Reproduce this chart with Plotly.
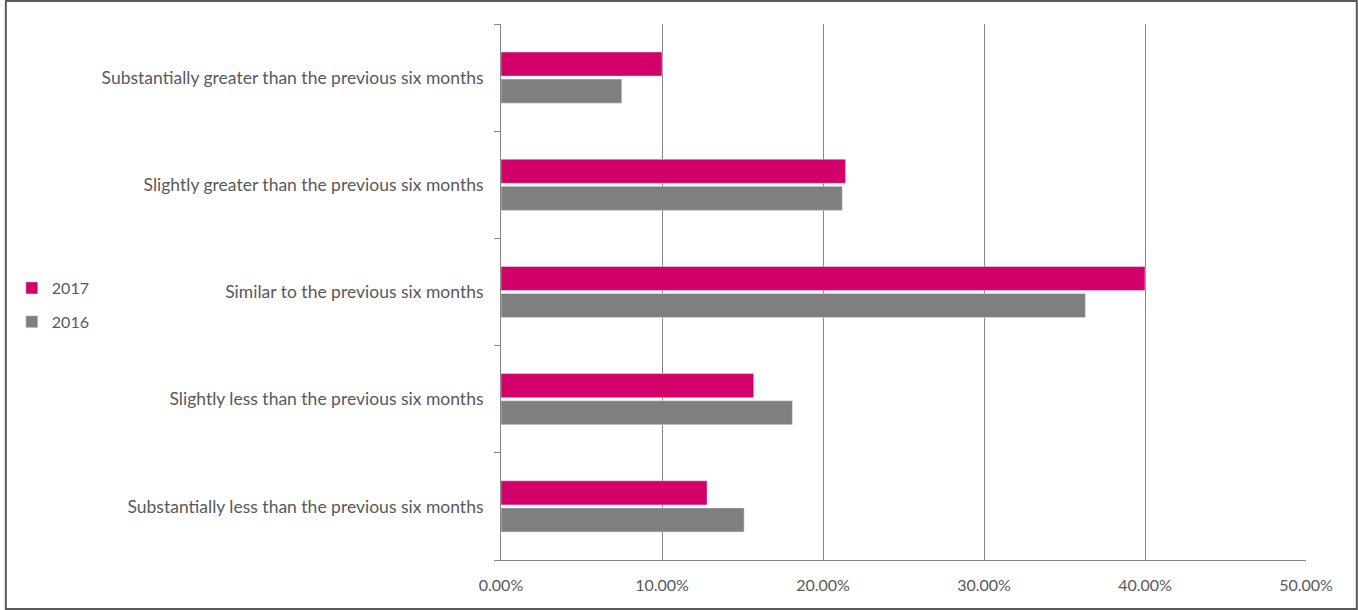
import plotly.graph_objects as go

categories = [
    "Substantially less than the previous six months",
    "Slightly less than the previous six months",
    "Similar to the previous six months",
    "Slightly greater than the previous six months",
    "Substantially greater than the previous six months",
]
values_2016 = [0.151, 0.181, 0.363, 0.212, 0.075]
values_2017 = [0.128, 0.157, 0.400, 0.214, 0.100]
x_ticks = [0.0, 0.1, 0.2, 0.3, 0.4, 0.5]

W, H = 1358, 610
L, R, T, B = 498, 52, 24, 50
pw, ph = W - L - R, H - T - B

fig = go.Figure()
fig.add_trace(go.Bar(y=categories, x=values_2016, orientation="h", name="2016",
                     marker_color="#7F7F7F", legendgroup="a", legendrank=2))
fig.add_trace(go.Bar(y=categories, x=values_2017, orientation="h", name="2017",
                     marker_color="#D20069", legendgroup="b", legendrank=1))

fam = "Lato, Carlito, Calibri, sans-serif"
col = "#595959"

fig.update_layout(
    width=W, height=H,
    margin=dict(l=L, r=R, t=T, b=B),
    paper_bgcolor="white", plot_bgcolor="white",
    barmode="group", bargap=0.495, bargroupgap=0.11,
    font=dict(family=fam, size=15, color=col),
    showlegend=True,
    legend=dict(x=-L / pw + 7 / pw, xanchor="left", y=0.5 - 13 / ph, yanchor="middle",
                traceorder="grouped", tracegroupgap=10,
                font=dict(family=fam, size=16, color=col), bgcolor="rgba(0,0,0,0)"),
    xaxis=dict(range=[0, 0.5], tickvals=x_ticks, tickformat=".2%",
               tickfont=dict(family=fam, size=16, color=col),
               showgrid=True, gridcolor="#868686", gridwidth=1,
               showline=True, linecolor="#868686", linewidth=1,
               zeroline=False, ticks="", ticklabelstandoff=11, fixedrange=True),
    yaxis=dict(categoryorder="array", categoryarray=categories,
               tickfont=dict(family=fam, size=17.5, color=col),
               showline=True, linecolor="#868686", linewidth=1,
               ticks="outside", tickson="boundaries", ticklen=6, tickcolor="#868686",
               ticklabelstandoff=13, showgrid=False, fixedrange=True),
    shapes=[dict(type="rect", xref="paper", yref="paper",
                 x0=(-L + 1) / pw, x1=(pw + R - 1) / pw,
                 y0=(-B + 1) / ph, y1=(ph + T - 1) / ph,
                 line=dict(color="#595959", width=2), fillcolor="rgba(0,0,0,0)",
                 layer="above")],
)

fig.write_html("out.html", config={"displayModeBar": False},
               post_script="document.body.style.margin='0';document.body.style.overflow='hidden';")
